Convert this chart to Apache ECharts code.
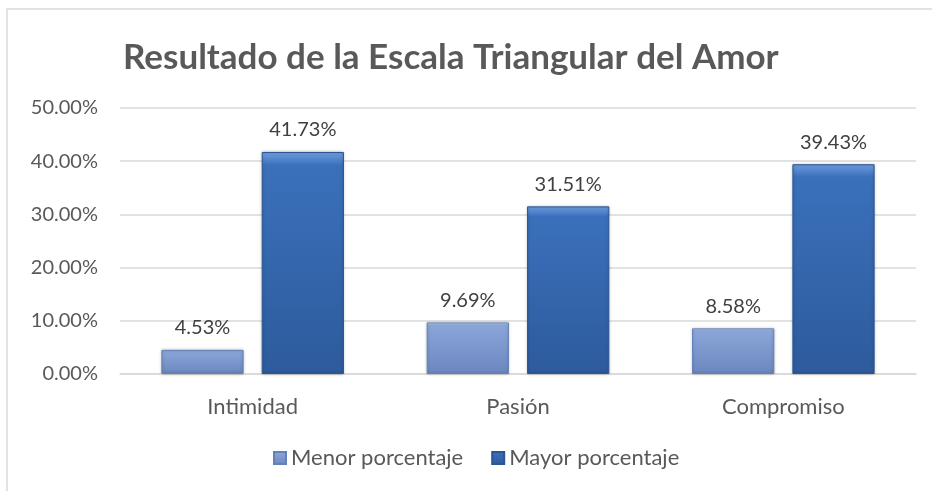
<!DOCTYPE html>
<html>
<head>
<meta charset="utf-8">
<script src="https://cdn.jsdelivr.net/npm/echarts@6/dist/echarts.min.js"></script>
<style>
  html, body { margin: 0; padding: 0; background: #fff; }
  #chart { width: 932px; height: 491px; }
</style>
</head>
<body>
<div id="chart"></div>
<script>
// datos
const categories = ['Intimidad', 'Pasión', 'Compromiso']
const seriesNames = ['Menor porcentaje', 'Mayor porcentaje']
const menor = [4.53, 9.69, 8.58]
const mayor = [41.73, 31.51, 39.43]
const yTicks = [0, 10, 20, 30, 40, 50]

const chart = echarts.init(document.getElementById('chart'))

const grad = (top, mid, bottom) => new echarts.graphic.LinearGradient(0, 0, 0, 1, [
  { offset: 0, color: top },
  { offset: 0.06, color: mid },
  { offset: 1, color: bottom }
])

const labelFmt = p => p.value.toFixed(2) + '%'

const option = {
  backgroundColor: '#fff',
  graphic: [{
    type: 'rect',
    shape: { x: 7, y: 9, width: 940, height: 500 },
    style: { fill: 'none', stroke: '#d9d9d9', lineWidth: 1.5 },
    silent: true
  }],
  title: {
    text: 'Resultado de la Escala Triangular del Amor',
    left: 118,
    top: 35,
    textStyle: { fontFamily: 'Lato', fontWeight: 'bold', fontSize: 35, color: '#595959' }
  },
  legend: {
    data: seriesNames,
    bottom: 17,
    left: 268,
    itemWidth: 12,
    itemHeight: 12,
    itemGap: 28,
    icon: 'rect',
    textStyle: { fontFamily: 'Lato', fontSize: 22, color: '#595959', padding: [0, 0, 0, 0] }
  },
  grid: { left: 120, right: 16, top: 108, bottom: 117 },
  xAxis: {
    type: 'category',
    data: categories,
    axisTick: { show: false },
    axisLine: { show: true, lineStyle: { color: '#d9d9d9', width: 1.5 } },
    axisLabel: { fontFamily: 'Lato', fontSize: 22, color: '#595959', margin: 22 }
  },
  yAxis: {
    type: 'value',
    min: yTicks[0],
    max: yTicks[yTicks.length - 1],
    interval: 10,
    axisLine: { show: false },
    axisTick: { show: false },
    splitLine: { lineStyle: { color: '#d9d9d9', width: 1.5 } },
    axisLabel: {
      fontFamily: 'Lato', fontSize: 20, color: '#595959', margin: 22,
      formatter: v => v.toFixed(2) + '%'
    }
  },
  series: [
    {
      name: seriesNames[0],
      type: 'bar',
      data: menor,
      barWidth: '31%',
      barGap: '22%',
      itemStyle: {
        color: grad('#c3d6f3', '#8aa5d8', '#6c87bf'),
        borderColor: '#6580b8',
        borderWidth: 1,
        shadowColor: 'rgba(0,0,0,0.25)',
        shadowBlur: 3
      },
      label: {
        show: true, position: 'top', distance: 12,
        fontFamily: 'Lato', fontSize: 20, color: '#404040',
        formatter: labelFmt
      }
    },
    {
      name: seriesNames[1],
      type: 'bar',
      data: mayor,
      barWidth: '31%',
      itemStyle: {
        color: grad('#6f9ee0', '#3a70bb', '#2d5b9c'),
        borderColor: '#2b5593',
        borderWidth: 1,
        shadowColor: 'rgba(0,0,0,0.25)',
        shadowBlur: 3
      },
      label: {
        show: true, position: 'top', distance: 12,
        fontFamily: 'Lato', fontSize: 20, color: '#404040',
        formatter: labelFmt
      }
    }
  ]
}

chart.setOption(option)
</script>
</body>
</html>
